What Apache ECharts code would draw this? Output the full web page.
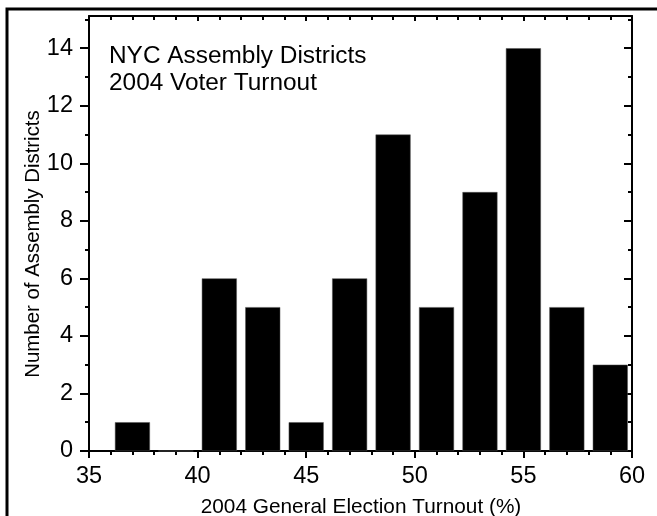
<!DOCTYPE html>
<html><head><meta charset="utf-8">
<script src="https://cdn.jsdelivr.net/npm/echarts@6/dist/echarts.min.js"></script>
<style>html,body{margin:0;padding:0;background:#fff}#c{width:657px;height:516px}</style>
</head><body><div id="c"></div>
<script>
const binCenters = [37, 39, 41, 43, 45, 47, 49, 51, 53, 55, 57, 59];
const districtCounts = [1, 0, 6, 5, 1, 6, 11, 5, 9, 14, 5, 3];
const yMajorTicks = [0, 2, 4, 6, 8, 10, 12, 14];
const yMinorTicks = [1, 3, 5, 7, 9, 11, 13, 15];
const titleLines = ['NYC Assembly Districts', '2004 Voter Turnout'];
const xName = '2004 General Election Turnout (%)';
const yName = 'Number of Assembly Districts';

const FONT = 'Liberation Sans, Arial, sans-serif';
const INK = '#000';
const chart = echarts.init(document.getElementById('c'), null, {renderer: 'canvas'});
const lineStyle = {color: INK, width: 2};
const hiddenY = {min: 0, max: 15.12, splitLine: {show: false}, axisLabel: {show: false}, axisLine: {show: false, onZero: false}};

chart.setOption({
  animation: false,
  backgroundColor: '#fff',
  grid: {left: 89, right: 25, top: 16, bottom: 65, containLabel: false, outerBoundsMode: 'none'},
  xAxis: [
    {type: 'value', position: 'bottom', min: 35, max: 60, interval: 5,
     axisLine: {show: true, onZero: false, lineStyle},
     axisTick: {show: true, inside: false, length: 7, lineStyle},
     minorTick: {show: true, splitNumber: 5, length: 4, lineStyle},
     axisLabel: {show: true, fontSize: 23.5, fontFamily: FONT, color: INK, margin: 14},
     splitLine: {show: false}},
    {type: 'value', position: 'top', min: 35, max: 60, interval: 5,
     axisLine: {show: true, onZero: false, lineStyle},
     axisTick: {show: true, inside: true, length: 5, lineStyle},
     minorTick: {show: true, splitNumber: 5, length: 4, lineStyle},
     axisLabel: {show: false}, splitLine: {show: false}}
  ],
  yAxis: [
    {type: 'value', position: 'left', min: 0, max: 15.12, interval: 2,
     axisLine: {show: true, onZero: false, lineStyle},
     axisTick: {show: true, inside: false, length: 9, lineStyle, customValues: yMajorTicks},
     axisLabel: {show: true, fontSize: 23.5, fontFamily: FONT, color: INK, margin: 16,
                 customValues: yMajorTicks},
     splitLine: {show: false}},
    Object.assign({type: 'value', position: 'left', interval: 1,
     axisTick: {show: true, inside: false, length: 4, lineStyle, customValues: yMinorTicks}}, hiddenY),
    {type: 'value', position: 'right', min: 0, max: 15.12, interval: 2,
     axisLine: {show: true, onZero: false, lineStyle},
     axisTick: {show: true, inside: true, length: 8, lineStyle, customValues: yMajorTicks},
     axisLabel: {show: false}, splitLine: {show: false}},
    Object.assign({type: 'value', position: 'right', interval: 1,
     axisTick: {show: true, inside: true, length: 4, lineStyle, customValues: yMinorTicks}}, hiddenY)
  ],
  series: [{
    type: 'bar', xAxisIndex: 0, yAxisIndex: 0, barWidth: 35, silent: true,
    data: binCenters.map((x, i) => [x, districtCounts[i]]),
    itemStyle: {color: '#000', borderColor: '#555', borderWidth: 0.5}
  }],
  graphic: [
    {type: 'rect', shape: {x: 7, y: 9, width: 800, height: 700}, silent: true,
     style: {fill: null, stroke: '#000', lineWidth: 3}},
    {type: 'text', x: 109, y: 43, silent: true,
     style: {text: titleLines.join('\n'), font: '24.4px ' + FONT, fill: INK, lineHeight: 27,
             textAlign: 'left', textVerticalAlign: 'top'}},
    {type: 'text', x: 361, y: 507, silent: true,
     style: {text: xName, font: '20.8px ' + FONT, fill: INK, textAlign: 'center', textVerticalAlign: 'middle'}},
    {type: 'text', x: 33, y: 244, rotation: Math.PI / 2, silent: true,
     style: {text: yName, font: '20.4px ' + FONT, fill: INK, textAlign: 'center', textVerticalAlign: 'middle'}}
  ]
});
</script></body></html>
